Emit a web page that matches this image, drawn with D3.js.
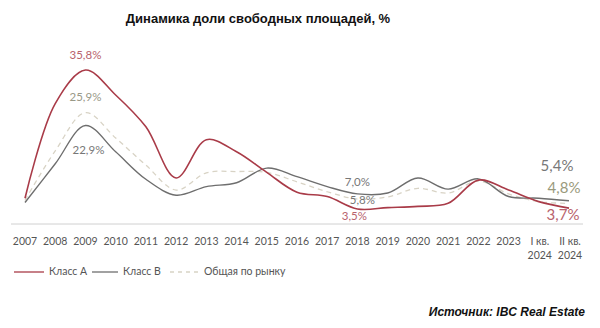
<!DOCTYPE html>
<html>
<head>
<meta charset="utf-8">
<script src="https://cdn.jsdelivr.net/npm/d3@7"></script>
<style>
  body { margin: 0; background: #fff; }
  svg { font-family: Lato, 'Open Sans', sans-serif; }
</style>
</head>
<body>
<svg id="chart" width="600" height="328"></svg>
<script>
// categories and series
const categories = ['2007','2008','2009','2010','2011','2012','2013','2014','2015','2016',
  '2017','2018','2019','2020','2021','2022','2023','I кв.|2024','II кв.|2024'];
const classA = [6.0, 28.0, 35.8, 30.0, 22.6, 10.7, 19.6, 16.8, 12.0, 7.4, 6.4, 3.5, 3.8, 4.1, 4.8, 10.2, 7.9, 5.2, 3.7];
const classB = [5.0, 14.0, 22.9, 16.8, 10.4, 6.7, 8.7, 9.6, 13.0, 11.0, 8.7, 7.0, 7.2, 10.7, 8.1, 10.5, 6.4, 6.0, 5.4];
const market = [5.5, 17.0, 25.9, 20.0, 13.7, 7.9, 11.9, 12.2, 12.0, 9.8, 7.5, 5.8, 6.3, 8.3, 7.2, 10.0, 7.0, 5.2, 4.8];

const width = 600, height = 328;
const svg = d3.select('#chart');

const x = d3.scalePoint().domain(categories).range([25, 569]);
const y = d3.scaleLinear().domain([0, 40]).range([224, 52]);

// title
svg.append('text')
  .attr('x', 258).attr('y', 23)
  .attr('text-anchor', 'middle')
  .attr('font-family', 'Liberation Sans, Arial, sans-serif')
  .attr('font-weight', 'bold')
  .attr('font-size', 13)
  .attr('fill', '#111')
  .text('Динамика доли свободных площадей, %');

// axis line
svg.append('line')
  .attr('x1', 11).attr('x2', 583)
  .attr('y1', y(0)).attr('y2', y(0))
  .attr('stroke', '#d0d0d0').attr('stroke-width', 1);

// tick labels
const ticks = svg.append('g').attr('fill', '#555').attr('font-size', 10.5);
categories.forEach((c) => {
  const parts = c.split('|');
  parts.forEach((p, i) => {
    ticks.append('text')
      .attr('x', x(c) + (parts.length > 1 ? 1 : 0))
      .attr('y', 245 + i * 14)
      .attr('text-anchor', 'middle')
      .text(p);
  });
});

const line = (vals) => d3.line()
  .x((d, i) => x(categories[i]))
  .y((d) => y(d))
  .curve(d3.curveCatmullRom.alpha(0.5))(vals);

svg.append('path').attr('d', line(market))
  .attr('fill', 'none').attr('stroke', '#d8d3c5').attr('stroke-width', 1.3)
  .attr('stroke-dasharray', '5,4');
svg.append('path').attr('d', line(classB))
  .attr('fill', 'none').attr('stroke', '#6e6e6e').attr('stroke-width', 1.4);
svg.append('path').attr('d', line(classA))
  .attr('fill', 'none').attr('stroke', '#a93b48').attr('stroke-width', 1.6);

// value labels
const labels = [
  { t: '35,8%', i: 2, v: classA[2], dx: 0, dy: -14, c: '#b8626c', s: 11.5 },
  { t: '25,9%', i: 2, v: market[2], dx: 0, dy: -15, c: '#999987', s: 11.5 },
  { t: '22,9%', i: 2, v: classB[2], dx: 3, dy: 26, c: '#777', s: 11.5 },
  { t: '7,0%', i: 11, v: classB[11], dx: 0, dy: -11, c: '#777', s: 11.5 },
  { t: '5,8%', i: 11, v: market[11], dx: 5, dy: 2, c: '#777', s: 11.5 },
  { t: '3,5%', i: 11, v: classA[11], dx: -3, dy: 8, c: '#b8626c', s: 11.5 },
  { t: '5,4%', i: 18, v: classB[18], dx: -12, dy: -34, c: '#777', s: 15 },
  { t: '4,8%', i: 18, v: market[18], dx: -5, dy: -14, c: '#9a9a7c', s: 15 },
  { t: '3,7%', i: 18, v: classA[18], dx: -6, dy: 8, c: '#b8626c', s: 15 }
];
svg.append('g').selectAll('text').data(labels).join('text')
  .attr('x', (d) => x(categories[d.i]) + d.dx)
  .attr('y', (d) => y(d.v) + d.dy)
  .attr('text-anchor', 'middle')
  .attr('dominant-baseline', 'middle')
  .attr('font-size', (d) => d.s)
  .attr('fill', (d) => d.c)
  .text((d) => d.t);

// legend
const legend = [
  { name: 'Класс А', color: '#a93b48', dash: null, x1: 14, x2: 44 },
  { name: 'Класс В', color: '#6e6e6e', dash: null, x1: 92, x2: 118 },
  { name: 'Общая по рынку', color: '#d8d3c5', dash: '4,4', x1: 170, x2: 199 }
];
const lg = svg.append('g');
legend.forEach((d) => {
  lg.append('line')
    .attr('x1', d.x1).attr('x2', d.x2).attr('y1', 272).attr('y2', 272)
    .attr('stroke', d.color).attr('stroke-width', 1.3)
    .attr('stroke-dasharray', d.dash);
  lg.append('text')
    .attr('x', d.x2 + 5).attr('y', 272)
    .attr('dominant-baseline', 'middle')
    .attr('font-size', 10.5).attr('fill', '#555')
    .text(d.name);
});

// source
svg.append('text')
  .attr('x', 585).attr('y', 316)
  .attr('text-anchor', 'end')
  .attr('font-family', 'Liberation Sans, Arial, sans-serif')
  .attr('font-weight', 'bold').attr('font-style', 'italic')
  .attr('font-size', 12).attr('fill', '#111')
  .text('Источник: IBC Real Estate');
</script>
</body>
</html>
